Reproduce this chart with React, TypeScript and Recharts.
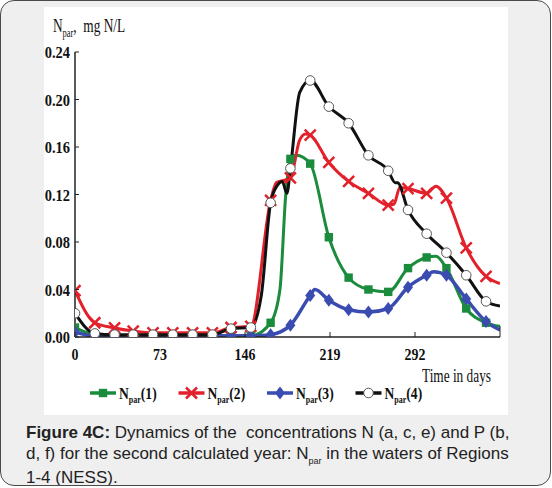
import React from 'react';
import { LineChart, Line, XAxis, YAxis, Legend } from 'recharts';

// days where the series carry a symbol
const markerDays = [0, 17, 34, 50, 67, 84, 101, 118, 134, 151, 168, 185, 202, 218, 235, 252, 269, 286, 302, 319, 336, 353];
const xTicks = [0, 73, 146, 219, 292, 365];
const yTicks = [0, 0.04, 0.08, 0.12, 0.16, 0.2, 0.24];

// [day, N_par in mg N/L]
const npar1: [number, number][] = [
  [0, 0.008], [17, 0.002], [34, 0.001], [50, 0.001], [67, 0.001], [84, 0.001], [101, 0.001],
  [118, 0.001], [134, 0.001], [151, 0.001], [168, 0.012], [176, 0.04], [181, 0.12], [185, 0.15],
  [190, 0.153], [202, 0.146], [218, 0.084], [235, 0.05], [252, 0.04], [269, 0.038], [286, 0.058],
  [302, 0.067], [310, 0.068], [319, 0.058], [336, 0.024], [353, 0.012], [365, 0.009],
];
const npar2: [number, number][] = [
  [0, 0.039], [17, 0.012], [34, 0.0076], [50, 0.005], [67, 0.0035], [84, 0.0035], [101, 0.0035],
  [118, 0.0035], [134, 0.008], [151, 0.009], [168, 0.115], [173, 0.13], [180, 0.132], [185, 0.134],
  [193, 0.166], [198, 0.171], [202, 0.17], [218, 0.147], [235, 0.131], [252, 0.121], [269, 0.111],
  [274, 0.112], [279, 0.126], [286, 0.125], [302, 0.121], [310, 0.127], [319, 0.117], [336, 0.075],
  [353, 0.051], [365, 0.045],
];
const npar3: [number, number][] = [
  [0, 0.004], [17, 0.001], [34, 0.001], [50, 0.001], [67, 0.001], [84, 0.001], [101, 0.001],
  [118, 0.001], [134, 0.001], [151, 0.001], [168, 0.002], [185, 0.01], [202, 0.035], [206, 0.04],
  [218, 0.031], [235, 0.023], [252, 0.021], [269, 0.024], [286, 0.042], [302, 0.052], [308, 0.055],
  [319, 0.052], [336, 0.032], [353, 0.013], [365, 0.006],
];
const npar4: [number, number][] = [
  [0, 0.02], [17, 0.003], [34, 0.002], [50, 0.002], [67, 0.002], [84, 0.002], [101, 0.002],
  [118, 0.002], [134, 0.007], [151, 0.008], [160, 0.035], [168, 0.113], [174, 0.128], [178, 0.131],
  [182, 0.121], [185, 0.142], [193, 0.206], [202, 0.216], [218, 0.194], [235, 0.18], [252, 0.153],
  [269, 0.14], [275, 0.13], [277, 0.13], [286, 0.107], [302, 0.087], [319, 0.071], [336, 0.052],
  [353, 0.03], [365, 0.026],
];

const seriesLabels = ['(1)', '(2)', '(3)', '(4)'];
const seriesColors = ['#1a8c3c', '#e3212b', '#3a4cb0', '#111111'];
const seriesShapes = ['square', 'cross', 'diamond', 'circle'];
const seriesWidths = [3, 3, 3.5, 3];
const seriesData = [npar1, npar2, npar3, npar4];

const serif = '"Liberation Serif", "Times New Roman", serif';

const Marker = ({ shape, color, x, y }: { shape: string; color: string; x: number; y: number }) => {
  if (shape === 'square') return <rect x={x - 4.2} y={y - 4.2} width={8.4} height={8.4} fill={color} />;
  if (shape === 'cross')
    return (
      <path
        d={`M${x - 5.5},${y - 5.5}L${x + 5.5},${y + 5.5}M${x + 5.5},${y - 5.5}L${x - 5.5},${y + 5.5}`}
        stroke={color}
        strokeWidth={2.5}
        fill="none"
      />
    );
  if (shape === 'diamond')
    return <polygon points={`${x},${y - 6.5} ${x + 5},${y} ${x},${y + 6.5} ${x - 5},${y}`} fill={color} />;
  return <circle cx={x} cy={y} r={4.8} fill="#fff" stroke="#555" strokeWidth={1} />;
};

const makeDot = (shape: string, color: string) => (props: any) => {
  const { cx, cy, payload, index } = props;
  const key = `${shape}-${index}`;
  if (cx == null || cy == null || !markerDays.includes(payload.day)) return <g key={key} />;
  return (
    <g key={key}>
      <Marker shape={shape} color={color} x={cx} y={cy} />
    </g>
  );
};

const XTick = (props: any) => {
  const { x, y, payload } = props;
  const last = payload.value === 365;
  return (
    <g>
      <line x1={x} y1={y} x2={x} y2={y - (last ? 11 : 5)} stroke="#222" strokeWidth={1} />
      {!last && (
        <text
          transform={`translate(${x},${y + 23}) scale(0.82,1)`}
          textAnchor="middle"
          fontFamily={serif}
          fontWeight="bold"
          fontSize={17}
          fill="#111"
        >
          {payload.value}
        </text>
      )}
    </g>
  );
};

const YTick = (props: any) => {
  const { x, y, payload } = props;
  return (
    <g>
      <line x1={x} y1={y} x2={x + 4} y2={y} stroke="#222" strokeWidth={1} />
      <text
        transform={`translate(${x - 5},${y + 6}) scale(0.85,1)`}
        textAnchor="end"
        fontFamily={serif}
        fontWeight="bold"
        fontSize={17}
        fill="#111"
      >
        {payload.value.toFixed(2)}
      </text>
    </g>
  );
};

const renderLegend = () => (
  <svg width={440} height={24}>
    {seriesLabels.map((label, i) => {
      const x0 = i * 88.5 + 4;
      return (
        <g key={label}>
          <line x1={x0} y1={11} x2={x0 + 26} y2={11} stroke={seriesColors[i]} strokeWidth={3.5} />
          <Marker shape={seriesShapes[i]} color={seriesColors[i]} x={x0 + 13} y={11} />
          <text
            transform={`translate(${x0 + 29},${17}) scale(0.8,1)`}
            fontFamily={serif}
            fontWeight="bold"
            fontSize={17}
            fill="#111"
          >
            N
            <tspan fontSize={10} dy={4}>par</tspan>
            <tspan dy={-4}>{label}</tspan>
          </text>
        </g>
      );
    })}
  </svg>
);

const App = () => (
  <div
    style={{
      position: 'absolute',
      left: 0,
      top: 0,
      width: 549,
      height: 484,
      background: '#efefef',
      border: '1.5px solid #4a4a4a',
      borderRadius: 14,
      overflow: 'hidden',
    }}
  >
    <div style={{ position: 'absolute', left: 43, top: 6, width: 464, height: 408, background: '#fff' }} />
    <div
      style={{
        position: 'absolute',
        left: 52,
        top: 14,
        fontFamily: serif,
        fontSize: 19,
        color: '#111',
        whiteSpace: 'nowrap',
        transform: 'scaleX(0.7)',
        transformOrigin: 'left top',
      }}
    >
      N<sub style={{ fontSize: 12 }}>par</sub>, &nbsp;mg N/L
    </div>
    <div
      style={{
        position: 'absolute',
        left: 421,
        top: 364,
        fontFamily: serif,
        fontSize: 19,
        color: '#111',
        whiteSpace: 'nowrap',
        transform: 'scaleX(0.7)',
        transformOrigin: 'left top',
      }}
    >
      Time in days
    </div>
    <div style={{ position: 'absolute', left: -1.5, top: -1.5 }}>
      <LineChart width={552} height={420} margin={{ top: 52, right: 52, bottom: 53, left: 35 }}>
        <XAxis
          type="number"
          dataKey="day"
          domain={[0, 365]}
          ticks={xTicks}
          height={30}
          tickSize={0}
          tickMargin={0}
          tick={<XTick />}
          axisLine={{ stroke: '#222', strokeWidth: 1.5 }}
          tickLine={false}
          interval={0}
          allowDataOverflow
        />
        <YAxis
          type="number"
          domain={[0, 0.24]}
          ticks={yTicks}
          width={40}
          tickSize={0}
          tickMargin={0}
          tick={<YTick />}
          axisLine={{ stroke: '#222', strokeWidth: 1.5 }}
          tickLine={false}
          interval={0}
          allowDataOverflow
        />
        {seriesData.map((rows, i) => (
          <Line
            key={seriesLabels[i]}
            data={rows.map(([day, v]) => ({ day, v }))}
            dataKey="v"
            type="monotone"
            stroke={seriesColors[i]}
            strokeWidth={seriesWidths[i]}
            dot={makeDot(seriesShapes[i], seriesColors[i])}
            activeDot={false}
            isAnimationActive={false}
          />
        ))}
        <Legend
          verticalAlign="middle"
          align="center"
          layout="horizontal"
          content={renderLegend}
          wrapperStyle={{ top: 382, left: 86, width: 440, height: 24 }}
        />
      </LineChart>
    </div>
    <div
      style={{
        position: 'absolute',
        left: 25,
        top: 421,
        fontFamily: '"Liberation Sans", Arial, sans-serif',
        fontSize: 17,
        lineHeight: '21px',
        color: '#222',
        whiteSpace: 'pre',
      }}
    >
      <b>Figure 4C:</b> Dynamics of the  concentrations N (a, c, e) and P (b,{'\n'}d, f) for the second calculated year: N
      <span style={{ fontSize: 9, position: 'relative', top: 5 }}>par</span> in the waters of Regions{'\n'}1-4 (NESS).
    </div>
  </div>
);

export default App;
